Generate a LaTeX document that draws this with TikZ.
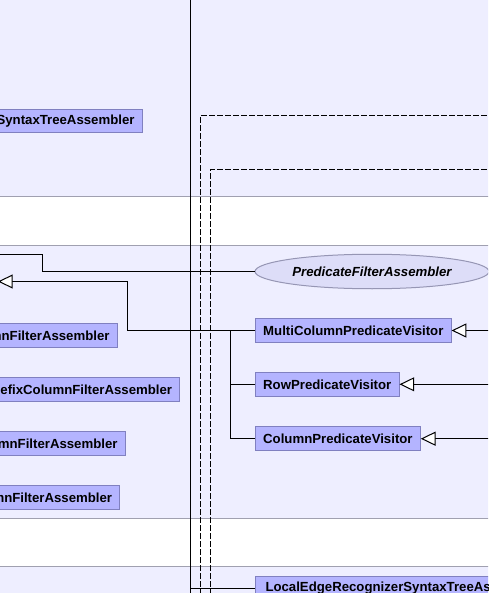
\documentclass[tikz,border=0pt]{standalone}
\usepackage{fontspec}
\setmainfont{Liberation Sans}
\usetikzlibrary{arrows.meta,shapes.geometric}
\definecolor{bandbg}{RGB}{238,238,255}
\definecolor{sepline}{RGB}{160,160,176}
\definecolor{boxfill}{RGB}{180,180,255}
\definecolor{boxline}{RGB}{128,128,192}
\definecolor{ellfill}{RGB}{221,221,248}
\definecolor{ellline}{RGB}{150,150,180}
\definecolor{txt}{RGB}{0,0,0}
\tikzset{
  classbox/.style={draw=boxline, fill=boxfill, line width=1pt, inner xsep=7.7pt, inner ysep=0pt,
    minimum height=23.6pt, text=txt, font=\fontsize{13.2}{15}\selectfont\bfseries},
  ifacebox/.style={ellipse, draw=ellline, fill=ellfill, line width=1pt, minimum width=234pt,
    minimum height=34.5pt, inner sep=0pt, text=txt, font=\fontsize{13.2}{15}\selectfont\bfseries\itshape},
  conn/.style={draw=black, line width=1pt},
  dashconn/.style={draw=black, line width=1pt, dash pattern=on 6pt off 2pt},
  inherit/.style={conn, -{Triangle[open, length=14.7pt, width=14pt, fill=white]}},
  band/.style={fill=bandbg, draw=none},
  sep/.style={draw=sepline, line width=1pt}
}
\begin{document}
\begin{tikzpicture}[x=1pt,y=-1pt]
\useasboundingbox (0,0) rectangle (488,593);
\clip (0,0) rectangle (488,593);
% bands
\fill[white] (0,0) rectangle (488,593);
\path[band] (-2,-2) rectangle (490,196.7);
\path[band] (-2,245.3) rectangle (490,518.3);
\path[band] (-2,566.3) rectangle (490,595);
\draw[sep] (-2,196.7) -- (490,196.7);
\draw[sep] (-2,245.3) -- (490,245.3);
\draw[sep] (-2,518.3) -- (490,518.3);
\draw[sep] (-2,566.3) -- (490,566.3);

% nodes
\node[classbox, anchor=east] (sta) at (142.7,121.2) {SyntaxTreeAssembler};
\node[classbox, anchor=east] (cfa1) at (117.7,335.3) {mnFilterAssembler};
\node[classbox, anchor=east] (pcfa) at (180.3,389.3) {efixColumnFilterAssembler};
\node[classbox, anchor=east] (cfa2) at (125.7,443.3) {mnFilterAssembler};
\node[classbox, anchor=east] (cfa3) at (120.3,497.3) {mnFilterAssembler};

\node[ifacebox] (pfa) at (372,271.5) {PredicateFilterAssembler};
\node[classbox, anchor=west] (mcpv) at (255,330.5) {MultiColumnPredicateVisitor};
\node[classbox, anchor=west] (rpv) at (255,384.3) {RowPredicateVisitor};
\node[classbox, anchor=west] (cpv) at (255,438.7) {ColumnPredicateVisitor};
\node[classbox, anchor=west, inner xsep=9.7pt] (lers) at (255.3,588.3) {LocalEdgeRecognizerSyntaxTreeAssembler};

% free ends
\coordinate (assocend) at (-5,254.3);
\coordinate (inhtip) at (-2,281.5);
\coordinate (trunktop) at (190.7,-2);
\coordinate (trunkbot) at (190.7,595);
\coordinate (mcpvsrc) at (492,330.5);
\coordinate (rpvsrc) at (492,384.3);
\coordinate (cpvsrc) at (492,438.7);
\coordinate (branch) at (230.7,330.5);
\coordinate (lerjoin) at (190.7,588.3);
\coordinate (dashAbot) at (200.7,595);
\coordinate (dashAcorner) at (200.7,115.3);
\coordinate (dashAend) at (492,115.3);
\coordinate (dashBbot) at (210.7,595);
\coordinate (dashBcorner) at (210.7,169.3);
\coordinate (dashBend) at (492,169.3);

% connectors
\draw[conn] (trunktop) -- (trunkbot);
\draw[dashconn] (dashAbot) -- (dashAcorner) -- (dashAend);
\draw[dashconn] (dashBbot) -- (dashBcorner) -- (dashBend);

\draw[conn] (pfa.west) -- (42,271.5) -- (42,254.3) -- (assocend);
\draw[inherit] (mcpv.west) -- (127,330.5) -- (127,281.5) -- (inhtip);
\draw[conn] (branch) |- (rpv.west);
\draw[conn] (branch) |- (cpv.west);
\draw[conn] (lerjoin) -- (lers.west);

\draw[inherit] (mcpvsrc) -- (mcpv.east);
\draw[inherit] (rpvsrc) -- (rpv.east);
\draw[inherit] (cpvsrc) -- (cpv.east);
\end{tikzpicture}
\end{document}
